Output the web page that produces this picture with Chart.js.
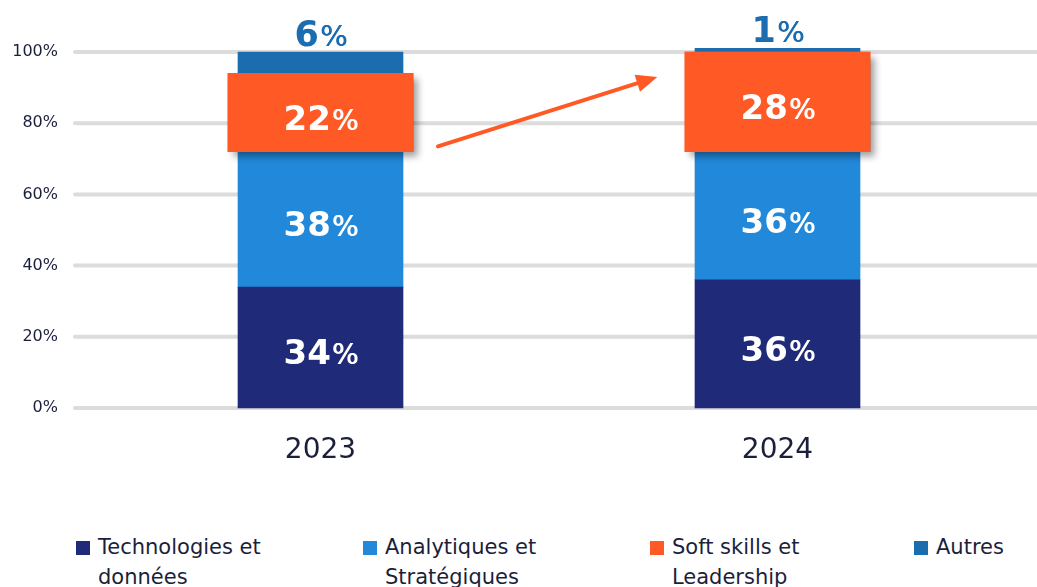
<!DOCTYPE html>
<html>
<head>
<meta charset="utf-8">
<script src="https://cdn.jsdelivr.net/npm/chart.js@4/dist/chart.umd.min.js"></script>
<style>
  body { margin: 0; background: #fff; font-family: 'DejaVu Sans', sans-serif; }
  #wrap { position: relative; width: 1037px; height: 587px; overflow: hidden; }
  #chart { position: absolute; left: 0; top: 0; }
  #legend { position: absolute; top: 532px; left: 76px; display: flex; }
  .item { display: flex; align-items: flex-start; font-size: 21px; line-height: 30px; color: #1b1f3b; white-space: pre-line; }
  .box { width: 14px; height: 14px; margin: 9px 8px 0 0; flex: none; }
</style>
</head>
<body>
<div id="wrap">
  <canvas id="chart" width="1037" height="480"></canvas>
  <div id="legend"></div>
</div>
<script>
// données
const years = ['2023', '2024'];
const seriesNames = ['Technologies et\ndonnées', 'Analytiques et\nStratégiques', 'Soft skills et\nLeadership', 'Autres'];
const techValues = [34, 36];
const analyticValues = [38, 36];
const softValues = [22, 28];
const otherValues = [6, 1];
const seriesColors = ['#1f2a78', '#2188da', '#ff5a26', '#1c6cb0'];
const yTicks = [0, 20, 40, 60, 80, 100];
// flèche : [index catégorie, valeur %]
const arrowFrom = [0.257, 73.5];
const arrowTo = [0.737, 93];

const legendCols = [287, 287, 264, 120];

// légende HTML (texte sur deux lignes)
const legendEl = document.getElementById('legend');
seriesNames.forEach((name, i) => {
    const item = document.createElement('div');
    item.className = 'item';
    item.style.width = legendCols[i] + 'px';
    item.innerHTML = `<span class="box" style="background:${seriesColors[i]}"></span><span>${name}</span>`;
    legendEl.appendChild(item);
});

// lignes de grille qui dépassent la zone du graphique
const gridPlugin = {
    id: 'wideGrid',
    beforeDatasetsDraw(chart) {
        const {ctx, chartArea, scales: {y}} = chart;
        ctx.save();
        ctx.strokeStyle = '#dcdcdc';
        ctx.lineWidth = 4;
        ctx.lineCap = 'round';
        y.ticks.forEach(t => {
            const py = y.getPixelForValue(t.value);
            ctx.beginPath();
            ctx.moveTo(chartArea.left - 17, py);
            ctx.lineTo(chart.width + 5, py);
            ctx.stroke();
        });
        ctx.restore();
    }
};

function drawPct(ctx, value, x, y, color, size) {
    const numFont = `bold ${size}px "DejaVu Sans"`;
    const pctFont = `${Math.round(size * 0.82)}px "DejaVu Sans"`;
    ctx.font = numFont;
    const wNum = ctx.measureText(String(value)).width;
    ctx.font = pctFont;
    const wPct = ctx.measureText('%').width;
    const start = x - (wNum + wPct) / 2;
    ctx.fillStyle = color;
    ctx.textAlign = 'left';
    ctx.textBaseline = 'alphabetic';
    ctx.font = numFont;
    ctx.fillText(String(value), start, y);
    ctx.font = pctFont;
    ctx.fillText('%', start + wNum + 1, y);
    // léger renfort pour un "%" semi-gras
    ctx.fillText('%', start + wNum + 1.6, y);
}

// boîte orange en avant + étiquettes + flèche
const overlayPlugin = {
    id: 'overlay',
    afterDatasetsDraw(chart) {
        const {ctx, scales: {x, y}} = chart;

        // redessiner la série "Soft skills" avec une ombre
        const softMeta = chart.getDatasetMeta(2);
        softMeta.data.forEach(bar => {
            ctx.save();
            ctx.shadowColor = 'rgba(0,0,0,0.38)';
            ctx.shadowBlur = 7;
            ctx.shadowOffsetX = 5;
            ctx.shadowOffsetY = 5;
            bar.draw(ctx);
            ctx.restore();
        });

        ctx.save();
        chart.data.datasets.forEach((ds, di) => {
            const meta = chart.getDatasetMeta(di);
            meta.data.forEach((bar, i) => {
                const v = ds.data[i];
                if (di === 3) {
                    drawPct(ctx, v, bar.x, bar.y - 6, seriesColors[3], 35);
                } else {
                    const cy = (bar.y + bar.base) / 2;
                    drawPct(ctx, v, bar.x, cy + 17, '#ffffff', 34);
                }
            });
        });

        // flèche
        const x1 = x.getPixelForValue(arrowFrom[0]), y1 = y.getPixelForValue(arrowFrom[1]);
        const x2 = x.getPixelForValue(arrowTo[0]), y2 = y.getPixelForValue(arrowTo[1]);
        const ang = Math.atan2(y2 - y1, x2 - x1);
        const headLen = 21, headW = 9;
        const bx = x2 - headLen * Math.cos(ang), by = y2 - headLen * Math.sin(ang);
        ctx.strokeStyle = seriesColors[2];
        ctx.fillStyle = seriesColors[2];
        ctx.lineWidth = 4;
        ctx.lineCap = 'round';
        ctx.beginPath();
        ctx.moveTo(x1, y1);
        ctx.lineTo(bx + 2 * Math.cos(ang), by + 2 * Math.sin(ang));
        ctx.stroke();
        ctx.beginPath();
        ctx.moveTo(x2, y2);
        ctx.lineTo(bx + headW * Math.sin(ang), by - headW * Math.cos(ang));
        ctx.lineTo(bx - headW * Math.sin(ang), by + headW * Math.cos(ang));
        ctx.closePath();
        ctx.fill();
        ctx.restore();
    }
};

new Chart(document.getElementById('chart'), {
    type: 'bar',
    data: {
        labels: years,
        datasets: [
            {label: seriesNames[0], data: techValues, backgroundColor: seriesColors[0], barThickness: 165, clip: false},
            {label: seriesNames[1], data: analyticValues, backgroundColor: seriesColors[1], barThickness: 165, clip: false},
            {label: seriesNames[2], data: softValues, backgroundColor: seriesColors[2], barThickness: 185, clip: false},
            {label: seriesNames[3], data: otherValues, backgroundColor: seriesColors[3], barThickness: 165, clip: false}
        ]
    },
    options: {
        responsive: false,
        animation: false,
        layout: {padding: {top: 52, right: 31, left: 0, bottom: 0}},
        plugins: {
            legend: {display: false},
            tooltip: {enabled: false}
        },
        scales: {
            x: {
                stacked: true,
                grid: {display: false, drawTicks: false},
                border: {display: false},
                ticks: {
                    color: '#1b1f3b',
                    font: {family: 'DejaVu Sans', size: 28},
                    padding: 26
                },
                afterFit(scale) { scale.height = 72; }
            },
            y: {
                stacked: true,
                min: 0,
                max: 100,
                grid: {display: false, drawTicks: false},
                border: {display: false},
                afterBuildTicks(scale) { scale.ticks = yTicks.map(v => ({value: v})); },
                ticks: {
                    color: '#1b1f3b',
                    font: {family: 'DejaVu Sans', size: 16},
                    padding: 34,
                    callback: v => v + '%'
                },
                afterFit(scale) { scale.width = 92; }
            }
        }
    },
    plugins: [gridPlugin, overlayPlugin]
});
</script>
</body>
</html>
